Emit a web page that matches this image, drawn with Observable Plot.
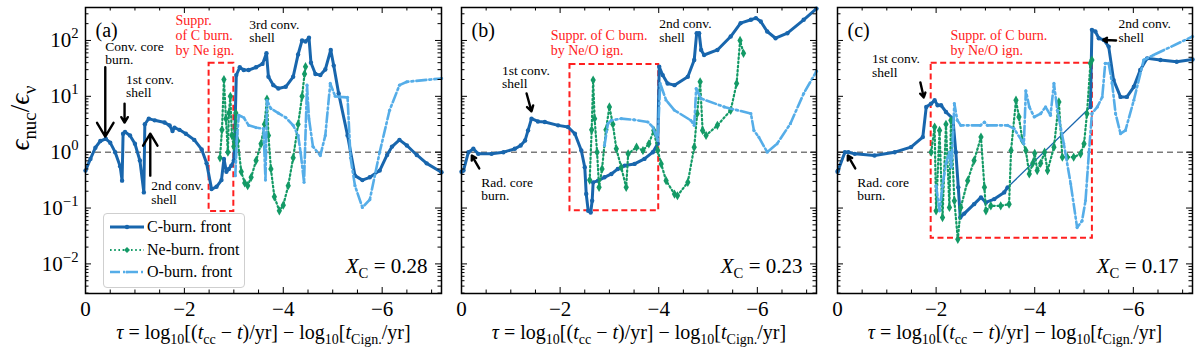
<!DOCTYPE html>
<html><head><meta charset="utf-8">
<script src="https://cdn.jsdelivr.net/npm/d3@7"></script>
<script src="https://cdn.jsdelivr.net/npm/@observablehq/plot@0.6"></script>
<style>
html,body{margin:0;padding:0;background:#fff;}
#wrap{position:relative;width:1200px;height:360px;font-family:"Liberation Serif","DejaVu Serif",serif;}
#row{display:flex;}
#row svg{display:block;}
.legend{position:absolute;box-sizing:border-box;border:1px solid #cfcfcf;border-radius:4px;background:rgba(255,255,255,0.85);}
.legend .item{position:absolute;left:0;height:22px;display:flex;align-items:center;font-size:16px;color:#000;white-space:nowrap;}
</style></head><body><div id="wrap"><div id="row"></div></div>
<script>
// ---- data: [tau, log10(eps_nuc/eps_nu)] ----
const tauTicks = [0, -2, -4, -6];
const tauMinor = [-0.5, -1, -1.5, -2.5, -3, -3.5, -4.5, -5, -5.5, -6.5, -7];
const yTicks = [1e-2, 1e-1, 1, 10, 100];
const seriesNames = ["C-burn. front", "Ne-burn. front", "O-burn. front"];
const panelTags = ["(a)", "(b)", "(c)"];
const xcValues = ["0.28", "0.23", "0.17"];

const cBurnA = [[0,-0.33],[-0.1,-0.12],[-0.2,0.08],[-0.3,0.2],[-0.41,0.24],[-0.5,0.17],[-0.6,0.0],[-0.7,-0.25],[-0.74,-0.51],[-0.76,0.33],[-0.8,0.36],[-0.9,0.3],[-1.0,0.15],[-1.1,-0.15],[-1.18,-0.72],[-1.2,0.5],[-1.28,0.6],[-1.4,0.57],[-1.6,0.53],[-1.7,0.48],[-1.76,0.38],[-1.8,0.44],[-1.9,0.4],[-2.03,0.33],[-2.2,0.22],[-2.35,0.05],[-2.45,-0.2],[-2.55,-0.66],[-2.65,-0.62],[-2.75,-0.5],[-2.8,-0.12],[-2.85,-0.35],[-2.9,-0.3],[-2.95,-0.24],[-3.0,-0.15],[-3.02,0.3],[-3.05,1.38],[-3.12,1.52],[-3.2,1.47],[-3.3,1.47],[-3.45,1.52],[-3.58,1.58],[-3.66,1.77],[-3.7,1.35],[-3.8,1.2],[-3.9,1.14],[-4.05,1.17],[-4.2,1.35],[-4.3,1.75],[-4.38,2.0],[-4.45,1.98],[-4.52,2.05],[-4.56,1.6],[-4.65,1.4],[-4.75,1.38],[-4.85,1.48],[-4.96,1.83],[-5.02,1.55],[-5.12,1.05],[-5.3,0.3],[-5.45,-0.42],[-5.6,-0.5],[-5.75,-0.45],[-5.95,-0.33],[-6.1,-0.05],[-6.2,0.1],[-6.35,0.22],[-6.5,0.12],[-6.7,-0.05],[-6.9,-0.2],[-7.2,-0.36]];
const neBurnA = [[-2.72,-0.1],[-2.76,0.4],[-2.8,1.3],[-2.84,0.6],[-2.88,0.0],[-2.9,0.7],[-2.93,1.0],[-2.96,0.3],[-3.0,0.1],[-3.04,0.7],[-3.08,0.2],[-3.15,-0.35],[-3.22,-0.55],[-3.28,-0.6],[-3.35,-0.45],[-3.45,-0.15],[-3.55,0.15],[-3.62,0.5],[-3.67,0.95],[-3.7,0.3],[-3.75,-0.3],[-3.82,-0.8],[-3.92,-1.05],[-4.0,-0.95],[-4.1,-0.6],[-4.2,-0.1],[-4.3,0.5],[-4.38,1.0],[-4.43,1.4],[-4.45,1.53]];
const oBurnA = [[-3.03,-0.42],[-3.06,0.2],[-3.1,0.66],[-3.2,0.62],[-3.3,0.48],[-3.45,0.44],[-3.6,0.42],[-3.64,-0.5],[-3.67,0.93],[-3.75,0.78],[-3.9,0.7],[-4.05,0.62],[-4.2,0.48],[-4.3,0.3],[-4.35,0.0],[-4.42,-0.54],[-4.48,1.2],[-4.52,0.6],[-4.6,0.1],[-4.75,-0.06],[-4.85,0.3],[-4.95,1.23],[-5.05,1.0],[-5.15,0.99],[-5.3,0.98],[-5.36,-0.1],[-5.45,-0.6],[-5.6,-0.99],[-5.75,-0.85],[-5.95,0.0],[-6.15,0.75],[-6.35,1.2],[-6.5,1.26],[-7.2,1.32]];

const cBurnB = [[0,-0.35],[-0.04,-0.33],[-0.14,0.0],[-0.24,0.06],[-0.34,-0.03],[-0.61,-0.03],[-0.85,0.0],[-1.08,0.06],[-1.2,0.12],[-1.29,0.21],[-1.35,0.39],[-1.42,0.6],[-1.55,0.55],[-1.69,0.54],[-1.96,0.48],[-2.16,0.45],[-2.3,0.33],[-2.43,0.03],[-2.5,-0.27],[-2.53,-0.75],[-2.57,-1.05],[-2.62,-1.08],[-2.65,-0.87],[-2.67,-0.54],[-2.77,-0.51],[-2.9,-0.45],[-3.04,-0.39],[-3.17,-0.3],[-3.31,-0.24],[-3.51,-0.21],[-3.71,-0.12],[-3.88,0.0],[-3.98,0.15],[-4.01,1.53],[-4.08,1.38],[-4.18,1.23],[-4.32,1.2],[-4.59,1.35],[-4.72,1.65],[-4.77,2.13],[-4.82,2.13],[-4.86,1.83],[-4.92,1.74],[-5.19,1.83],[-5.46,2.07],[-5.66,2.31],[-5.87,2.37],[-5.97,2.4],[-6.07,2.34],[-6.2,2.16],[-6.37,2.04],[-6.61,2.13],[-6.94,2.37],[-7.2,2.57]];
const neBurnB = [[-2.6,-0.5],[-2.64,0.4],[-2.67,1.29],[-2.7,0.6],[-2.75,0.0],[-2.79,-0.63],[-2.85,-0.3],[-2.93,0.4],[-3.0,0.81],[-3.07,0.5],[-3.14,0.06],[-3.24,-0.27],[-3.34,-0.63],[-3.38,-0.03],[-3.55,0.09],[-3.68,0.03],[-3.8,0.15],[-3.9,0.39],[-3.98,0.03],[-4.05,-0.21],[-4.15,-0.51],[-4.32,-0.75],[-4.38,-0.78],[-4.59,-0.54],[-4.72,0.09],[-4.78,0.69],[-4.84,1.26],[-4.89,0.39],[-4.96,0.3],[-5.19,0.48],[-5.46,0.75],[-5.58,1.23],[-5.65,2.0],[-5.72,1.77]];
const oBurnB = [[-2.9,0.12],[-2.97,0.51],[-3.04,0.57],[-3.24,0.6],[-3.5,0.58],[-3.78,0.54],[-3.88,0.45],[-3.98,0.21],[-4.03,1.23],[-4.15,0.93],[-4.32,0.75],[-4.65,0.57],[-4.72,0.48],[-4.76,1.14],[-4.86,0.96],[-5.33,0.81],[-5.87,0.69],[-5.93,0.39],[-6.03,0.27],[-6.2,0.0],[-6.4,0.15],[-6.67,0.51],[-6.94,1.05],[-7.2,1.45]];

const cBurnC = [[0,-0.35],[-0.01,-0.33],[-0.15,0.0],[-0.22,0.0],[-0.35,-0.03],[-0.75,-0.06],[-1.16,0.0],[-1.49,0.09],[-1.73,0.27],[-1.8,0.81],[-1.9,0.87],[-1.97,0.93],[-2.03,0.84],[-2.1,0.84],[-2.2,0.72],[-2.34,0.6],[-2.4,0.0],[-2.45,-0.63],[-2.49,-1.17],[-2.57,-1.1],[-2.77,-0.93],[-2.91,-0.81],[-3.01,-0.9],[-3.18,-0.84],[-3.38,-0.72],[-3.45,-0.63],null,[-5.13,0.81],[-5.16,2.19],[-5.23,2.16],[-5.3,2.04],[-5.4,2.01],[-5.5,1.89],[-5.6,1.29],[-5.74,0.99],[-5.87,0.99],[-6.01,1.17],[-6.14,1.47],[-6.28,1.68],[-6.55,1.65],[-6.88,1.62],[-7.2,1.66]];
const neBurnC = [[-1.9,0.0],[-1.97,0.45],[-2.0,-1.05],[-2.07,0.39],[-2.13,-1.17],[-2.2,0.5],[-2.27,-0.99],[-2.3,0.57],[-2.37,-0.87],[-2.44,-1.56],[-2.5,-0.99],[-2.64,-0.51],[-2.77,-0.15],[-2.91,0.27],[-2.98,-0.63],[-3.01,-1.05],[-3.11,-0.96],[-3.31,-0.96],[-3.48,-0.93],[-3.52,0.03],[-3.62,0.93],[-3.68,0.63],[-3.75,0.21],[-3.82,0.03],[-3.89,-0.39],[-3.96,-0.2],[-4.0,-0.02],[-4.05,-0.33],[-4.12,-0.2],[-4.2,0.0],[-4.26,-0.33],[-4.39,0.09],[-4.49,0.9],[-4.56,-0.09],[-4.66,-0.09],[-4.79,-0.09],[-4.93,-0.03],[-5.0,0.15],[-5.06,0.69],[-5.13,1.59],[-5.16,1.65]];
const oBurnC = [[-2.0,-0.6],[-2.07,-1.05],[-2.13,-0.6],[-2.2,-0.2],[-2.27,0.0],[-2.31,-0.27],[-2.37,0.87],[-2.43,0.57],[-2.5,0.48],[-2.9,0.48],[-2.98,0.54],[-3.04,0.48],[-3.45,0.48],[-3.58,0.42],[-3.78,0.15],[-3.82,1.1],[-3.89,0.81],[-3.99,0.63],[-4.12,0.69],[-4.22,0.81],[-4.32,0.66],[-4.39,1.23],[-4.46,0.75],[-4.59,0.15],[-4.73,-0.57],[-4.86,-1.35],[-4.96,-1.23],[-5.03,-0.87],[-5.1,0.0],[-5.16,0.69],[-5.27,0.81],[-5.37,0.99],[-5.43,1.59],[-5.5,1.59],[-5.57,1.23],[-5.64,0.69],[-5.74,0.33],[-5.84,0.39],[-6.01,0.93],[-6.21,1.65],[-6.41,1.74],[-7.2,2.07]];

// suppression boxes: [tau1, tau2, log lo, log hi]
const boxA = [-2.5, -3.0, -1.06, 1.59];
const boxB = [-2.2, -4.0, -1.05, 1.57];
const boxC = [-1.9, -5.17, -1.54, 1.59];

// annotations (data coordinates: tau, log10 value)
const notesA = [{t:-0.40,l:1.98,s:"Conv. core\nburn."},{t:-0.82,l:1.39,s:"1st conv.\nshell"},{t:-1.33,l:-0.51,s:"2nd conv.\nshell"},{t:-3.31,l:2.38,s:"3rd conv.\nshell"}];
const notesB = [{t:-0.82,l:1.55,s:"1st conv.\nshell"},{t:-0.40,l:-0.45,s:"Rad. core\nburn."},{t:-4.01,l:2.39,s:"2nd conv.\nshell"}];
const notesC = [{t:-0.70,l:1.76,s:"1st conv.\nshell"},{t:-0.40,l:-0.45,s:"Rad. core\nburn."},{t:-5.70,l:2.39,s:"2nd conv.\nshell"}];
const redA = [{t:-1.82,l:2.47,s:"Suppr.\nof C burn.\nby Ne ign."}];
const redB = [{t:-1.81,l:2.2,s:"Suppr. of C burn.\nby Ne/O ign."}];
const redC = [{t:-2.29,l:2.2,s:"Suppr. of C burn.\nby Ne/O ign."}];
const arrowsA = [[-0.40,1.52,-0.40,0.28],[-0.79,0.87,-0.79,0.53],[-1.31,-0.42,-1.31,0.33]];
const arrowsB = [[-1.32,1.05,-1.42,0.73],[-0.36,-0.29,-0.21,-0.06]];
const arrowsC = [[-1.68,1.25,-1.75,0.98],[-0.36,-0.29,-0.21,-0.06],[-5.65,2.0,-5.39,2.01]];

// ---- styling ----
const CC = "#1866ad", NC = "#139a66", OC = "#55ade8";
const W = [449, 380, 371], ML = [85, 12, 8], MR = [8, 13, 8];
const H = 360, MT = 7, MB = 67, PH = H - MT - MB;
const FONT = '"Liberation Serif", "DejaVu Serif", serif';
const yDomain = [10 ** -2.53, 10 ** 2.59];
const yMinor = [];
for (let e = -3; e <= 2; e++) for (let m = 2; m <= 9; m++) { const v = m * 10 ** e; if (v > yDomain[0] && v < yDomain[1]) yMinor.push(v); }

const minus = n => (n < 0 ? "\u2212" + Math.abs(n) : String(n));
const rows = arr => arr.map(d => d ? {t: d[0], v: 10 ** d[1]} : {t: NaN, v: NaN});
const notes = arr => arr.map(d => ({t: d.t, v: 10 ** d.l, s: d.s}));
const arrs = arr => arr.map(d => ({x1: d[0], y1: 10 ** d[1], x2: d[2], y2: 10 ** d[3]}));

const panels = [
  {c: cBurnA, ne: neBurnA, o: oBurnA, box: boxA, notes: notesA, red: redA, arrows: arrowsA},
  {c: cBurnB, ne: neBurnB, o: oBurnB, box: boxB, notes: notesB, red: redB, arrows: arrowsB},
  {c: cBurnC, ne: neBurnC, o: oBurnC, box: boxC, notes: notesC, red: redC, arrows: arrowsC}
];

const xLabel = "*\u03c4* = log_{10}[(*t*_{cc} \u2212 *t*)/yr] \u2212 log_{10}[*t*_{Cign.}/yr]";
const yLabel = "*\u03f5*_{nuc}/*\u03f5*_{\u03bd}";

function panel(k) {
  const P = panels[k];
  const pw = W[k] - ML[k] - MR[k];
  const c = rows(P.c), ne = rows(P.ne), o = rows(P.o);
  const gapIdx = P.c.indexOf(null);
  const gap = gapIdx > 0 ? [{x1: c[gapIdx - 1].t, y1: c[gapIdx - 1].v, x2: c[gapIdx + 1].t, y2: c[gapIdx + 1].v}] : [];
  const marks = [
    Plot.ruleY([1], {stroke: "#7a7a7a", strokeDasharray: "6,4", strokeWidth: 1.4}),
    Plot.rect([P.box], {x1: d => d[0], x2: d => d[1], y1: d => 10 ** d[2], y2: d => 10 ** d[3], fill: "none", stroke: "#ff1f1f", strokeWidth: 2, strokeDasharray: "6,3.5"}),
    Plot.line(c, {x: "t", y: "v", stroke: CC, strokeWidth: 3}),
    Plot.link(gap, {x1: "x1", y1: "y1", x2: "x2", y2: "y2", stroke: CC, strokeWidth: 1.3}),
    Plot.dot(c, {x: "t", y: "v", r: 2.2, fill: CC}),
    Plot.line(ne, {x: "t", y: "v", stroke: NC, strokeWidth: 2.2, strokeDasharray: "1.6,2.6"}),
    Plot.dot(ne, {x: "t", y: "v", r: 2.8, symbol: "diamond", fill: NC}),
    Plot.line(o, {x: "t", y: "v", stroke: OC, strokeWidth: 2.6, strokeDasharray: "10,3,2,3"}),
    Plot.dot(o, {x: "t", y: "v", r: 1.6, fill: OC}),
    Plot.text(notes(P.notes), {x: "t", y: "v", text: "s", textAnchor: "start", lineAnchor: "top", fontSize: 13.5, lineHeight: 0.99, fill: "black", fontFamily: FONT}),
    Plot.text(notes(P.red), {x: "t", y: "v", text: "s", textAnchor: "start", lineAnchor: "top", fontSize: 14, lineHeight: 1.07, fill: "#ff1a1a", fontFamily: FONT}),
    Plot.arrow(arrs(P.arrows), {x1: "x1", y1: "y1", x2: "x2", y2: "y2", stroke: "black", strokeWidth: 2.4, headLength: 10, headAngle: 62}),
    // inward ticks on all four sides
    Plot.tickX(tauTicks, {x: d => d, insetTop: PH - 6, stroke: "black"}),
    Plot.tickX(tauTicks, {x: d => d, insetBottom: PH - 6, stroke: "black"}),
    Plot.tickX(tauMinor, {x: d => d, insetTop: PH - 3.5, stroke: "black"}),
    Plot.tickX(tauMinor, {x: d => d, insetBottom: PH - 3.5, stroke: "black"}),
    Plot.tickY(yTicks, {y: d => d, insetRight: pw - 6, stroke: "black"}),
    Plot.tickY(yTicks, {y: d => d, insetLeft: pw - 6, stroke: "black"}),
    Plot.tickY(yMinor, {y: d => d, insetRight: pw - 3.5, stroke: "black"}),
    Plot.tickY(yMinor, {y: d => d, insetLeft: pw - 3.5, stroke: "black"}),
    Plot.frame({stroke: "black", strokeWidth: 1.5}),
    Plot.text([panelTags[k]], {text: d => d, frameAnchor: "top-left", dx: 10, dy: 15, textAnchor: "start", fontSize: 20, fontFamily: FONT}),
    Plot.text(["*X*_{C} = " + xcValues[k]], {text: d => d, frameAnchor: "bottom-right", dx: -14, dy: -21, textAnchor: "end", fontSize: 21, fontFamily: FONT}),
    Plot.text([xLabel], {text: d => d, frameAnchor: "bottom", dy: 45, fontSize: 20, fontFamily: FONT})
  ];
  if (k === 0) marks.push(Plot.text([yLabel], {text: d => d, frameAnchor: "left", dx: -65, rotate: -90, fontSize: 27, fontFamily: FONT}));
  const svg = Plot.plot({
    width: W[k], height: H, marginLeft: ML[k], marginRight: MR[k], marginTop: MT, marginBottom: MB,
    style: {fontFamily: FONT, fontSize: "21px", background: "white", overflow: "visible", color: "black"},
    x: {domain: [0, -7.2], ticks: tauTicks, tickSize: 0, tickPadding: 8, tickFormat: minus, label: null},
    y: {type: "log", domain: yDomain, axis: k === 0 ? "left" : null, ticks: yTicks, tickSize: 0, tickPadding: 7,
        tickFormat: d => "10^{" + minus(Math.round(Math.log10(d))) + "}", label: null},
    marks
  });
  svg.setAttribute("font-family", FONT);
  svg.style.fontFamily = FONT;
  svg.querySelectorAll("text").forEach(t => t.style.fontFamily = FONT);
  return svg;
}

// turn *italic*, _{sub}, ^{sup} markup into real tspans
function richify(el) {
  if (el.querySelector("tspan")) return;
  const s = el.textContent;
  if (!/[_^]\{|\*/.test(s)) return;
  const fs = parseFloat(getComputedStyle(el).fontSize) || 20;
  const segs = []; let buf = "", italic = false, i = 0;
  const push = () => { if (buf) segs.push({t: buf, italic, mode: 0}); buf = ""; };
  while (i < s.length) {
    const ch = s[i];
    if (ch === "*") { push(); italic = !italic; i++; }
    else if ((ch === "_" || ch === "^") && s[i + 1] === "{") {
      push(); const j = s.indexOf("}", i);
      segs.push({t: s.slice(i + 2, j), italic: false, mode: ch === "_" ? 1 : -1}); i = j + 1;
    } else { buf += ch; i++; }
  }
  push();
  el.textContent = "";
  let cur = 0;
  for (const sg of segs) {
    const ts = document.createElementNS("http://www.w3.org/2000/svg", "tspan");
    const target = sg.mode === 1 ? 0.27 * fs : sg.mode === -1 ? -0.42 * fs : 0;
    if (target !== cur) ts.setAttribute("dy", (target - cur).toFixed(2));
    cur = target;
    if (sg.mode) ts.setAttribute("font-size", (0.7 * fs).toFixed(2));
    if (sg.italic) ts.setAttribute("font-style", "italic");
    ts.textContent = sg.t;
    el.appendChild(ts);
  }
}

const row = document.getElementById("row");
for (let k = 0; k < 3; k++) {
  const svg = panel(k);
  row.appendChild(svg);
  svg.querySelectorAll("text").forEach(richify);
}

// legend (panel a)
const wrap = document.getElementById("wrap");
const lg = document.createElement("div");
lg.className = "legend";
Object.assign(lg.style, {left: "103px", top: "213px", width: "142px", height: "75px", fontFamily: FONT});
const styles = [
  {color: CC, dash: "", w: 3, sym: "circle", r: 2.2},
  {color: NC, dash: "1.6,2.6", w: 2.2, sym: "diamond", r: 3},
  {color: OC, dash: "10,3,2,3", w: 2.6, sym: "circle", r: 1.6}
];
seriesNames.forEach((name, i) => {
  const it = document.createElement("div");
  it.className = "item";
  it.style.top = (2 + i * 22.5) + "px";
  const st = styles[i];
  const mk = st.sym === "diamond"
    ? `<path d="M23,${11 - st.r}L${23 + st.r},11L23,${11 + st.r}L${23 - st.r},11Z" fill="${st.color}"/>`
    : `<circle cx="23" cy="11" r="${st.r}" fill="${st.color}"/>`;
  it.innerHTML = `<svg width="42" height="22" style="display:block"><line x1="6" y1="11" x2="40" y2="11" stroke="${st.color}" stroke-width="${st.w}" stroke-dasharray="${st.dash}"/>${mk}</svg><span style="margin-left:1px">${name}</span>`;
  lg.appendChild(it);
});
wrap.appendChild(lg);
</script></body></html>
